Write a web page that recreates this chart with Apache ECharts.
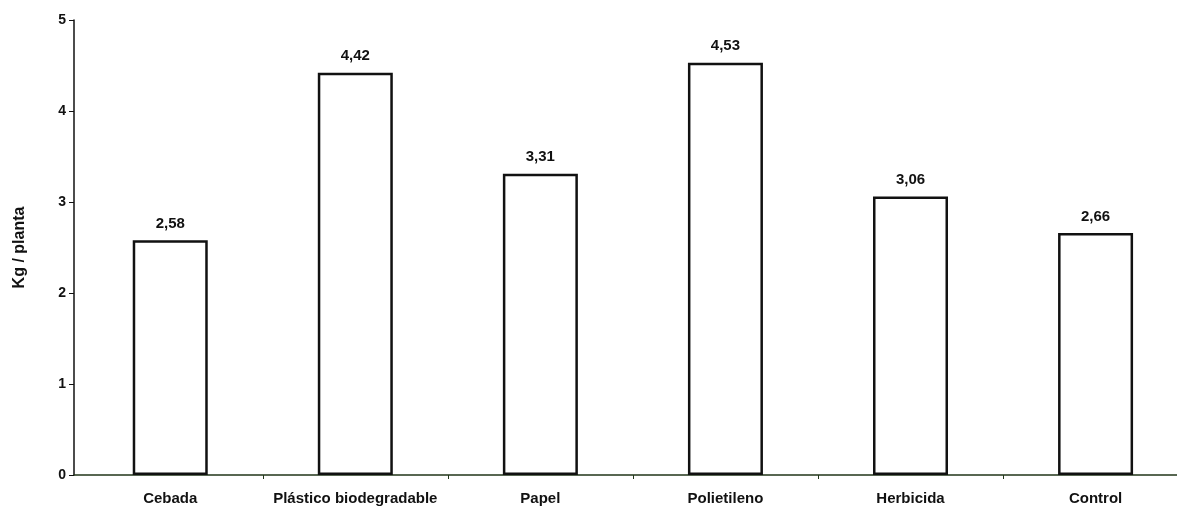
<!DOCTYPE html>
<html>
<head>
<meta charset="utf-8">
<script src="https://cdn.jsdelivr.net/npm/echarts@6/dist/echarts.min.js"></script>
<style>
  html, body { margin: 0; padding: 0; background: #ffffff; }
  #chart { width: 1177px; height: 515px; }
</style>
</head>
<body>
<div id="chart"></div>
<script>
// Yield per plant for each soil cover treatment
const categories = ['Cebada', 'Plástico biodegradable', 'Papel', 'Polietileno', 'Herbicida', 'Control'];
const yieldKg = [2.58, 4.42, 3.31, 4.53, 3.06, 2.66];
const yTicks = [0, 1, 2, 3, 4, 5];

const chart = echarts.init(document.getElementById('chart'), null, { renderer: 'canvas' });

const font = 'Arial, "Liberation Sans", sans-serif';
const ink = '#111111';

// Categories sit at integer positions; the last band runs past the right edge.
const catPositions = categories.map((_, i) => i);
const bandEdges = categories.slice(1).map((_, i) => i + 0.5);

chart.setOption({
  backgroundColor: '#ffffff',
  animation: false,
  grid: { left: 74, right: 0, top: 20, bottom: 40, containLabel: false },
  xAxis: {
    type: 'value',
    min: -0.52,
    max: 5.44,
    axisLine: { show: true, onZero: false, lineStyle: { color: '#22361a', width: 1.5 } },
    axisTick: { show: true, length: 4, customValues: bandEdges, lineStyle: { color: '#22361a', width: 1 } },
    axisLabel: {
      customValues: catPositions,
      margin: 16,
      color: ink,
      fontFamily: font,
      fontWeight: 'bold',
      fontSize: 15,
      formatter: v => categories[Math.round(v)] || ''
    },
    splitLine: { show: false }
  },
  yAxis: {
    type: 'value',
    min: yTicks[0],
    max: yTicks[yTicks.length - 1],
    interval: 1,
    name: 'Kg / planta',
    nameLocation: 'middle',
    nameRotate: 90,
    nameGap: 46,
    nameTextStyle: { color: ink, fontFamily: font, fontWeight: 'bold', fontSize: 16 },
    axisLine: { show: true, onZero: false, lineStyle: { color: ink, width: 1.5 } },
    axisTick: { show: true, length: 5, lineStyle: { color: ink, width: 1 } },
    axisLabel: {
      margin: 8,
      color: ink,
      fontFamily: font,
      fontWeight: 'bold',
      fontSize: 14,
      formatter: v => String(v)
    },
    splitLine: { show: false }
  },
  series: [{
    type: 'bar',
    data: yieldKg.map((v, i) => [catPositions[i], v]),
    barWidth: 75,
    itemStyle: { color: '#ffffff', borderColor: ink, borderWidth: 2.5 },
    label: {
      show: true,
      position: 'top',
      distance: 9,
      color: ink,
      fontFamily: font,
      fontWeight: 'bold',
      fontSize: 15,
      formatter: p => p.value[1].toFixed(2).replace('.', ',')
    }
  }]
});
</script>
</body>
</html>
